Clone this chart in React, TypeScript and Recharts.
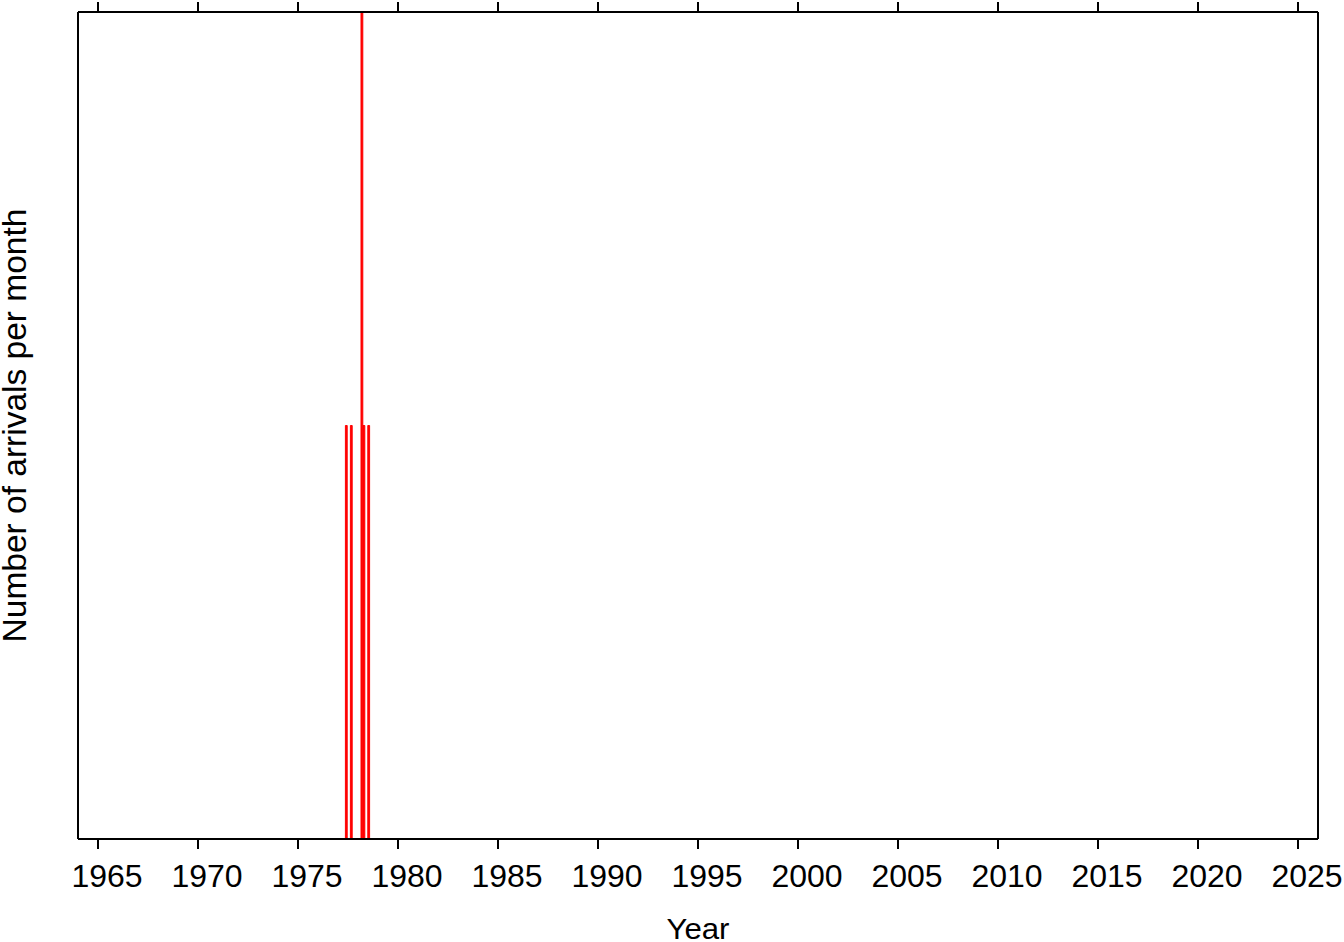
import { Bar, BarChart, Label, XAxis, YAxis } from "recharts";

const months = [1977.42, 1977.67, 1978.2, 1978.3, 1978.54];
const arrivals = [1, 1, 2, 1, 1];
const yearTicks = [1965, 1970, 1975, 1980, 1985, 1990, 1995, 2000, 2005, 2010, 2015, 2020, 2025];

const data = months.map((t, i) => ({ t, n: arrivals[i] }));

const font = "'Liberation Sans', Arial, sans-serif";
const black = "#000";

// labels in the source sit a few px right of their tick marks
function YearTick(props: any) {
  const { x, y, payload } = props;
  return (
    <text x={x + 9} y={y + 25} textAnchor="middle" fill={black} fontSize={32} fontFamily={font}>
      {payload.value}
    </text>
  );
}

function YearLabel(props: any) {
  const vb = props.viewBox;
  return (
    <text
      transform={`translate(${vb.x + vb.width / 2},${vb.y + vb.height - 3}) scale(1.04,1)`}
      textAnchor="middle"
      fill={black}
      fontSize={30}
      fontFamily={font}
    >
      Year
    </text>
  );
}

export default function App() {
  return (
    <div style={{ position: "absolute", left: 0, top: 0, background: "#fff", fontFamily: font }}>
      <BarChart width={1344} height={942} data={data} margin={{ top: 0, right: 0, left: 0, bottom: 0 }} barGap={0}>
        <XAxis
          xAxisId="bottom"
          dataKey="t"
          type="number"
          domain={[1964, 2026]}
          ticks={yearTicks}
          height={103}
          tickSize={10}
          tickMargin={13}
          stroke={black}
          strokeWidth={2}
          tick={<YearTick />}
          allowDataOverflow
        >
          <Label content={<YearLabel />} />
        </XAxis>
        <XAxis
          xAxisId="top"
          orientation="top"
          dataKey="t"
          type="number"
          domain={[1964, 2026]}
          ticks={yearTicks}
          height={12}
          tickSize={10}
          tickFormatter={() => ""}
          stroke={black}
          strokeWidth={2}
          allowDataOverflow
        />
        <YAxis
          yAxisId="left"
          domain={[0, 2]}
          width={78}
          tick={false}
          tickLine={false}
          stroke={black}
          strokeWidth={2}
        >
          <Label
            value="Number of arrivals per month"
            angle={-90}
            position="center"
            dx={-25}
            fill={black}
            fontSize={33.5}
            fontFamily={font}
          />
        </YAxis>
        <YAxis
          yAxisId="right"
          orientation="right"
          domain={[0, 2]}
          width={26}
          tick={false}
          tickLine={false}
          stroke={black}
          strokeWidth={2}
        />
        <Bar
          dataKey="n"
          xAxisId="bottom"
          yAxisId="left"
          fill="#ff0000"
          stroke="#ff0000"
          strokeWidth={1}
          barSize={2}
          isAnimationActive={false}
        />
      </BarChart>
    </div>
  );
}
